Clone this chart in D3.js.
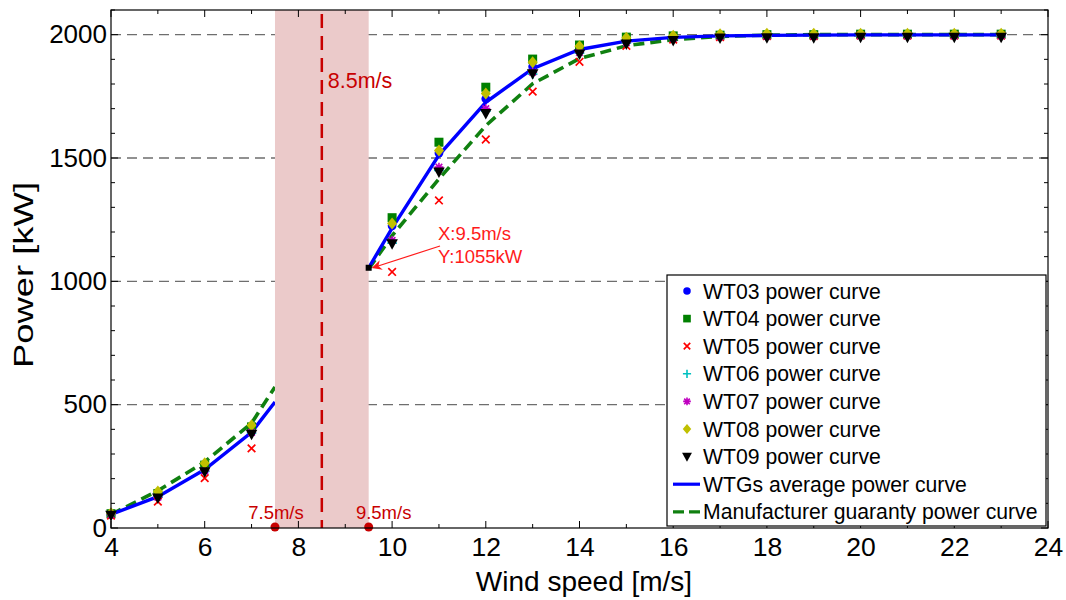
<!DOCTYPE html>
<html>
<head>
<meta charset="utf-8">
<script src="https://cdn.jsdelivr.net/npm/d3@7"></script>
<style>
  html, body { margin: 0; padding: 0; background: #fff; }
  svg { display: block; font-family: "Liberation Sans", Arial, Helvetica, sans-serif; }
</style>
</head>
<body>
<svg id="chart" width="1066" height="600"></svg>
<script>
// ---------------- DATA ----------------
const speeds = [4, 5, 6, 7, 10, 11, 12, 13, 14, 15, 16, 17, 18, 19, 20, 21, 22, 23];
const wt03 = [55, 127, 235, 390, 1225, 1520, 1740, 1870, 1940, 1975, 1988, 1994, 1996, 1996, 1998, 1998, 1998, 1998];
const wt04 = [58, 140, 255, 410, 1258, 1564, 1787, 1901, 1958, 1990, 1995, 1998, 2000, 2000, 2002, 2002, 2002, 2002];
const wt05 = [50, 107, 202, 323, 1038, 1328, 1575, 1769, 1890, 1955, 1980, 1990, 1994, 1994, 1996, 1996, 1996, 1996];
const wt06 = [55, 125, 230, 385, 1155, 1450, 1690, 1840, 1925, 1965, 1984, 1992, 1994, 1995, 1996, 1996, 1996, 1996];
const wt07 = [55, 125, 232, 388, 1166, 1463, 1700, 1848, 1928, 1968, 1985, 1992, 1994, 1995, 1996, 1996, 1996, 1996];
const wt08 = [60, 148, 262, 417, 1234, 1530, 1761, 1888, 1953, 1987, 1996, 2002, 2004, 2004, 2004, 2004, 2004, 2004];
const wt09 = [52, 122, 228, 380, 1152, 1443, 1680, 1842, 1922, 1962, 1976, 1986, 1988, 1988, 1990, 1990, 1990, 1990];

const avgSpeed = [4, 5, 6, 7, 7.5, 9.5, 10, 11, 12, 13, 14, 15, 16, 17, 18, 19, 20, 21, 22, 23];
const avgPower = [55, 127, 237, 388, 511, 1055, 1216, 1512, 1726, 1862, 1940, 1974, 1989, 1995, 1997, 1998, 1999, 1999, 1999, 1999];

const mfgSpeed = [4, 5, 6, 7, 7.5, 9.5, 10, 11, 12, 13, 14, 15, 16, 17, 18, 19, 20, 21, 22, 23];
const mfgPower = [55, 151, 268, 425, 572, 1050, 1185, 1415, 1631, 1801, 1903, 1955, 1980, 1993, 1998, 2000, 2000, 2000, 2000, 2000];

const gapStart = 7.5, gapEnd = 9.5, gapMid = 8.5;
const tipX = 9.5, tipY = 1055;

const xTicks = [4, 6, 8, 10, 12, 14, 16, 18, 20, 22, 24];
const yTicks = [0, 500, 1000, 1500, 2000];

const seriesNames = ["WT03 power curve", "WT04 power curve", "WT05 power curve", "WT06 power curve",
                     "WT07 power curve", "WT08 power curve", "WT09 power curve"];
const lineNames = ["WTGs average power curve", "Manufacturer guaranty power curve"];

// ---------------- LAYOUT ----------------
const svg = d3.select("#chart");
const L = 111, R = 1048, T = 10, B = 528;
const x = d3.scaleLinear().domain([4, 24]).range([L, R]);
const y = d3.scaleLinear().domain([0, 2100]).range([B, T]);

const DARKRED = "#c80000";
const FONT = "\"Liberation Sans\", Arial, sans-serif";

// grid lines
svg.append("g").selectAll("line").data(yTicks.filter(d => d > 0)).join("line")
  .attr("x1", L).attr("x2", R).attr("y1", d => y(d)).attr("y2", d => y(d))
  .attr("stroke", "#6e6e6e").attr("stroke-width", 1.4).attr("stroke-dasharray", "10,6");

const lineGen = d3.line()
  .defined(d => d.p !== null)
  .x(d => x(d.s)).y(d => y(d.p));

function withGap(sp, pw) {
  const pts = [];
  sp.forEach((s, i) => {
    pts.push({ s: s, p: pw[i] });
    if (s === gapStart) pts.push({ s: gapMid, p: null });
  });
  return pts;
}

// manufacturer curve (green dashed)
svg.append("path").datum(withGap(mfgSpeed, mfgPower))
  .attr("d", lineGen).attr("fill", "none")
  .attr("stroke", "#108010").attr("stroke-width", 3.6).attr("stroke-dasharray", "11,6");

// ---------------- MARKERS ----------------
function drawMarker(g, type, cx, cy, s) {
  s = s || 1;
  switch (type) {
    case "circle":
      g.append("circle").attr("cx", cx).attr("cy", cy).attr("r", 4.4 * s).attr("fill", "#0000ff");
      break;
    case "square":
      g.append("rect").attr("x", cx - 4.5 * s).attr("y", cy - 4.5 * s).attr("width", 9 * s).attr("height", 9 * s).attr("fill", "#008000");
      break;
    case "x":
      g.append("path").attr("d", `M${cx-3.8*s},${cy-3.8*s}L${cx+3.8*s},${cy+3.8*s}M${cx-3.8*s},${cy+3.8*s}L${cx+3.8*s},${cy-3.8*s}`)
        .attr("stroke", "#ff0000").attr("stroke-width", 1.7);
      break;
    case "plus":
      g.append("path").attr("d", `M${cx-4.8*s},${cy}L${cx+4.8*s},${cy}M${cx},${cy-4.8*s}L${cx},${cy+4.8*s}`)
        .attr("stroke", "#00c0c0").attr("stroke-width", 1.6);
      break;
    case "star":
      g.append("path").attr("d", `M${cx-4.5*s},${cy}L${cx+4.5*s},${cy}M${cx},${cy-4.5*s}L${cx},${cy+4.5*s}` +
        `M${cx-3.3*s},${cy-3.3*s}L${cx+3.3*s},${cy+3.3*s}M${cx-3.3*s},${cy+3.3*s}L${cx+3.3*s},${cy-3.3*s}`)
        .attr("stroke", "#c000c0").attr("stroke-width", 1.6);
      break;
    case "diamond":
      g.append("path").attr("d", `M${cx},${cy-6*s}L${cx+5*s},${cy}L${cx},${cy+6*s}L${cx-5*s},${cy}Z`)
        .attr("fill", "#c0c000");
      break;
    case "tri":
      g.append("path").attr("d", `M${cx-5.8*s},${cy-4.5*s}L${cx+5.8*s},${cy-4.5*s}L${cx},${cy+6*s}Z`)
        .attr("fill", "#000000");
      break;
  }
}

const seriesData = [wt03, wt04, wt05, wt06, wt07, wt08, wt09];
const seriesTypes = ["circle", "square", "x", "plus", "star", "diamond", "tri"];

// average curve (blue)
svg.append("path").datum(withGap(avgSpeed, avgPower))
  .attr("d", lineGen).attr("fill", "none")
  .attr("stroke", "#0000ff").attr("stroke-width", 3.4);

const gm = svg.append("g");
seriesData.forEach((vals, k) => {
  speeds.forEach((s, i) => drawMarker(gm, seriesTypes[k], x(s), y(vals[i])));
});

// ---------------- SHADED BAND ----------------
svg.append("rect")
  .attr("x", x(gapStart)).attr("y", T)
  .attr("width", x(gapEnd) - x(gapStart)).attr("height", B - T)
  .attr("fill", "#ebcaca");

svg.append("line")
  .attr("x1", x(gapMid)).attr("x2", x(gapMid)).attr("y1", T + 4).attr("y2", B)
  .attr("stroke", DARKRED).attr("stroke-width", 2.5).attr("stroke-dasharray", "14,8");

svg.append("text").attr("x", x(gapMid) + 6).attr("y", 88)
  .attr("font-size", 21.5).attr("fill", DARKRED).text("8.5m/s");

svg.append("text").attr("x", x(gapStart) + 1).attr("y", 519).attr("text-anchor", "middle")
  .attr("font-size", 18.5).attr("fill", DARKRED).text("7.5m/s");
svg.append("text").attr("x", x(gapEnd) + 15).attr("y", 519).attr("text-anchor", "middle")
  .attr("font-size", 18.5).attr("fill", DARKRED).text("9.5m/s");

// datatip black square
svg.append("rect").attr("x", x(tipX) - 3).attr("y", y(tipY) - 3).attr("width", 6).attr("height", 6).attr("fill", "#000");

// ---------------- ANNOTATION ----------------
svg.append("defs").append("marker")
  .attr("id", "arr").attr("viewBox", "0 0 10 10").attr("refX", 9).attr("refY", 5)
  .attr("markerWidth", 10).attr("markerHeight", 10).attr("orient", "auto-start-reverse")
  .attr("markerUnits", "userSpaceOnUse")
  .append("path").attr("d", "M0,0L10,5L0,10L3,5Z").attr("fill", "#ff1a1a");

svg.append("line")
  .attr("x1", 440).attr("y1", 246).attr("x2", x(tipX) + 4).attr("y2", y(tipY) + 0)
  .attr("stroke", "#ff1a1a").attr("stroke-width", 1.2).attr("marker-end", "url(#arr)");

svg.append("text").attr("x", 438).attr("y", 240).attr("font-size", 18.5).attr("fill", "#ff1a1a").text("X:9.5m/s");
svg.append("text").attr("x", 438).attr("y", 263).attr("font-size", 18.5).attr("fill", "#ff1a1a").text("Y:1055kW");

// ---------------- DOTS on axis ----------------
[gapStart, gapEnd].forEach(v => {
  svg.append("circle").attr("cx", x(v)).attr("cy", B - 1).attr("r", 4.5).attr("fill", DARKRED);
});

// ---------------- AXES ----------------
svg.append("rect").attr("x", L).attr("y", T).attr("width", R - L).attr("height", B - T)
  .attr("fill", "none").attr("stroke", "#000").attr("stroke-width", 1.2);

const xMinor = d3.range(4, 25, 1);
const yMinor = d3.range(0, 2101, 100);
const gt = svg.append("g").attr("stroke", "#000").attr("stroke-width", 1);
xMinor.forEach(v => {
  const len = (v % 2 === 0) ? 7 : 4;
  gt.append("line").attr("x1", x(v)).attr("x2", x(v)).attr("y1", B).attr("y2", B - len);
  gt.append("line").attr("x1", x(v)).attr("x2", x(v)).attr("y1", T).attr("y2", T + len);
});
yMinor.forEach(v => {
  const len = (v % 500 === 0) ? 7 : 4;
  gt.append("line").attr("x1", L).attr("x2", L + len).attr("y1", y(v)).attr("y2", y(v));
  gt.append("line").attr("x1", R).attr("x2", R - len).attr("y1", y(v)).attr("y2", y(v));
});

const xAxis = d3.axisBottom(x).tickValues(xTicks).tickSize(0).tickPadding(9).tickFormat(d3.format("d"));
const gx = svg.append("g").attr("transform", `translate(0,${B})`).call(xAxis);
gx.select(".domain").remove();
gx.selectAll("text").attr("font-size", 26.5).attr("font-family", FONT).attr("fill", "#000");

const yAxis = d3.axisLeft(y).tickValues(yTicks).tickSize(0).tickPadding(4).tickFormat(d3.format("d"));
const gy = svg.append("g").attr("transform", `translate(${L},0)`).call(yAxis);
gy.select(".domain").remove();
gy.selectAll("text").attr("font-size", 26).attr("font-family", FONT).attr("fill", "#000");

svg.append("text").attr("x", 584).attr("y", 591).attr("text-anchor", "middle")
  .attr("font-size", 28).attr("fill", "#000").text("Wind speed [m/s]");
svg.append("text").attr("transform", `translate(33,275) rotate(-90)`).attr("text-anchor", "middle")
  .attr("font-size", 28).attr("textLength", 186).attr("lengthAdjust", "spacingAndGlyphs")
  .attr("fill", "#000").text("Power [kW]");

// ---------------- LEGEND ----------------
const lg = svg.append("g");
const LX = 667, LY = 275, LW = 379, LH = 251;
lg.append("rect").attr("x", LX).attr("y", LY).attr("width", LW).attr("height", LH)
  .attr("fill", "#fff").attr("stroke", "#000").attr("stroke-width", 1.2);
const rowY = i => 291 + i * 27.6;
seriesNames.forEach((n, i) => {
  drawMarker(lg, seriesTypes[i], 687, rowY(i), 0.85);
  lg.append("text").attr("x", 703).attr("y", rowY(i) + 7.5).attr("font-size", 21.2).attr("fill", "#000").text(n);
});
lineNames.forEach((n, j) => {
  const i = seriesNames.length + j;
  lg.append("line").attr("x1", 673).attr("x2", 700).attr("y1", rowY(i)).attr("y2", rowY(i))
    .attr("stroke", j === 0 ? "#0000ff" : "#108010").attr("stroke-width", 3.2)
    .attr("stroke-dasharray", j === 0 ? null : "11,5");
  lg.append("text").attr("x", 703).attr("y", rowY(i) + 7.5).attr("font-size", 21.2).attr("fill", "#000").text(n);
});
</script>
</body>
</html>
